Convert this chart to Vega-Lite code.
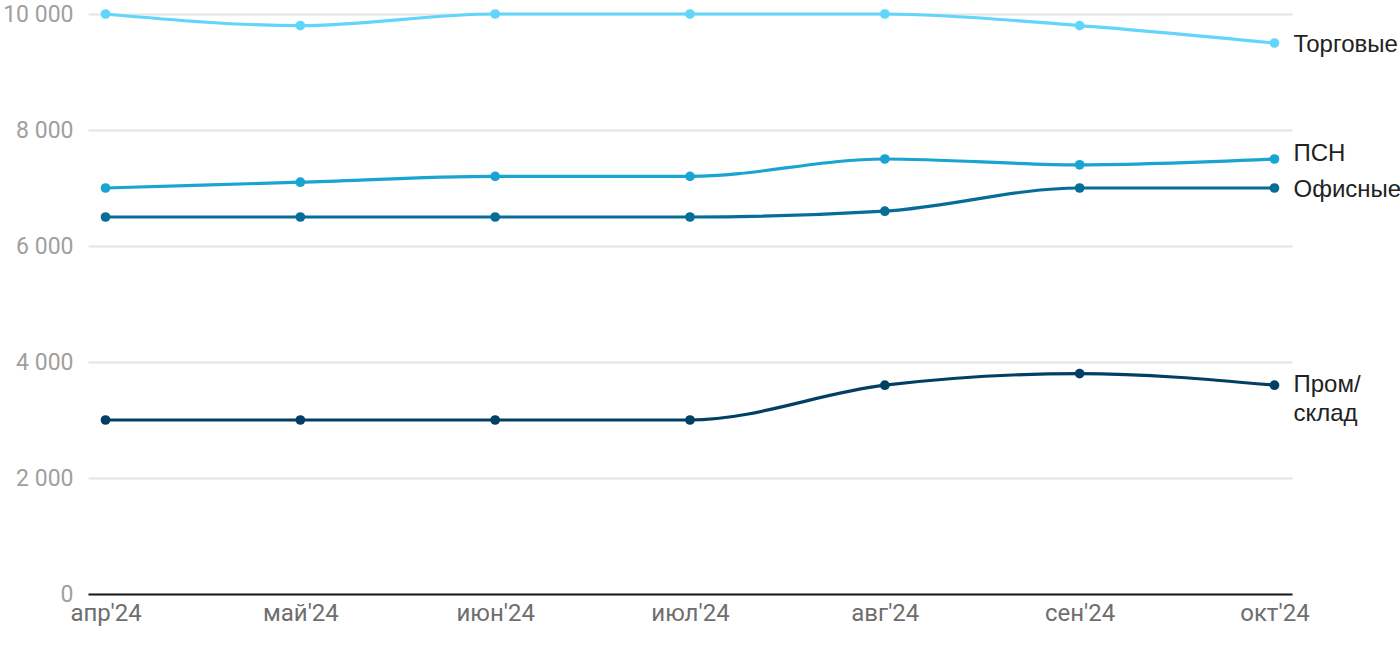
{
  "$schema": "https://vega.github.io/schema/vega-lite/v6.json",
  "width": 1204,
  "height": 580,
  "autosize": "none",
  "padding": {"left": 88, "top": 14, "right": 108, "bottom": 56},
  "background": "white",
  "config": {
    "view": {"stroke": null},
    "font": "Roboto"
  },
  "data": {
    "values": [
      {"month": "апр'24", "series": "Торговые", "label": "Торговые", "value": 10000},
      {"month": "май'24", "series": "Торговые", "label": "Торговые", "value": 9800},
      {"month": "июн'24", "series": "Торговые", "label": "Торговые", "value": 10000},
      {"month": "июл'24", "series": "Торговые", "label": "Торговые", "value": 10000},
      {"month": "авг'24", "series": "Торговые", "label": "Торговые", "value": 10000},
      {"month": "сен'24", "series": "Торговые", "label": "Торговые", "value": 9800},
      {"month": "окт'24", "series": "Торговые", "label": "Торговые", "value": 9500},
      {"month": "апр'24", "series": "ПСН", "label": "ПСН", "value": 7000},
      {"month": "май'24", "series": "ПСН", "label": "ПСН", "value": 7100},
      {"month": "июн'24", "series": "ПСН", "label": "ПСН", "value": 7200},
      {"month": "июл'24", "series": "ПСН", "label": "ПСН", "value": 7200},
      {"month": "авг'24", "series": "ПСН", "label": "ПСН", "value": 7500},
      {"month": "сен'24", "series": "ПСН", "label": "ПСН", "value": 7400},
      {"month": "окт'24", "series": "ПСН", "label": "ПСН", "value": 7500},
      {"month": "апр'24", "series": "Офисные", "label": "Офисные", "value": 6500},
      {"month": "май'24", "series": "Офисные", "label": "Офисные", "value": 6500},
      {"month": "июн'24", "series": "Офисные", "label": "Офисные", "value": 6500},
      {"month": "июл'24", "series": "Офисные", "label": "Офисные", "value": 6500},
      {"month": "авг'24", "series": "Офисные", "label": "Офисные", "value": 6600},
      {"month": "сен'24", "series": "Офисные", "label": "Офисные", "value": 7000},
      {"month": "окт'24", "series": "Офисные", "label": "Офисные", "value": 7000},
      {"month": "апр'24", "series": "Пром/склад", "label": "Пром/\nсклад", "value": 3000},
      {"month": "май'24", "series": "Пром/склад", "label": "Пром/\nсклад", "value": 3000},
      {"month": "июн'24", "series": "Пром/склад", "label": "Пром/\nсклад", "value": 3000},
      {"month": "июл'24", "series": "Пром/склад", "label": "Пром/\nсклад", "value": 3000},
      {"month": "авг'24", "series": "Пром/склад", "label": "Пром/\nсклад", "value": 3600},
      {"month": "сен'24", "series": "Пром/склад", "label": "Пром/\nсклад", "value": 3800},
      {"month": "окт'24", "series": "Пром/склад", "label": "Пром/\nсклад", "value": 3600}
    ]
  },
  "encoding": {
    "x": {
      "field": "month",
      "type": "ordinal",
      "sort": ["апр'24", "май'24", "июн'24", "июл'24", "авг'24", "сен'24", "окт'24"],
      "scale": {"type": "point", "padding": 0.09},
      "axis": {
        "title": null,
        "labelAngle": 0,
        "ticks": false,
        "grid": false,
        "domain": true,
        "domainColor": "#1a1a1a",
        "domainWidth": 2,
        "labelColor": "#6e6e6e",
        "labelFontSize": 24,
        "labelFont": "Roboto",
        "labelPadding": 7
      }
    },
    "y": {
      "field": "value",
      "type": "quantitative",
      "scale": {"domain": [0, 10000], "nice": false},
      "axis": {
        "title": null,
        "values": [0, 2000, 4000, 6000, 8000, 10000],
        "labelExpr": "replace(format(datum.value, ','), ',', ' ')",
        "domain": false,
        "ticks": false,
        "grid": true,
        "gridColor": "#e4e4e4",
        "gridWidth": 2,
        "labelColor": "#a0a0a0",
        "labelFontSize": 23,
        "labelFont": "Roboto",
        "labelPadding": 15
      }
    },
    "color": {
      "field": "series",
      "type": "nominal",
      "scale": {
        "domain": ["Торговые", "ПСН", "Офисные", "Пром/склад"],
        "range": ["#62d5fb", "#19a4d1", "#066d99", "#023f65"]
      },
      "legend": null
    }
  },
  "layer": [
    {
      "mark": {"type": "line", "interpolate": "monotone", "strokeWidth": 3.2}
    },
    {
      "mark": {"type": "point", "filled": true, "opacity": 1, "size": 95}
    },
    {
      "transform": [
        {"filter": "indexof(datum.month, 'окт') == 0"},
        {"filter": "datum.series == 'Торговые' || datum.series == 'Офисные'"}
      ],
      "mark": {"type": "text", "align": "left", "baseline": "middle", "dx": 19, "dy": 2, "fontSize": 24, "font": "Liberation Sans", "color": "#222222"},
      "encoding": {"text": {"field": "label"}, "color": {"value": "#222222"}}
    },
    {
      "transform": [
        {"filter": "indexof(datum.month, 'окт') == 0"},
        {"filter": "datum.series == 'ПСН'"}
      ],
      "mark": {"type": "text", "align": "left", "baseline": "middle", "dx": 19, "dy": -5, "fontSize": 24, "font": "Liberation Sans", "color": "#222222"},
      "encoding": {"text": {"field": "label"}, "color": {"value": "#222222"}}
    },
    {
      "transform": [
        {"filter": "indexof(datum.month, 'окт') == 0"},
        {"filter": "datum.series == 'Пром/склад'"}
      ],
      "mark": {"type": "text", "align": "left", "baseline": "top", "dx": 19, "dy": -12, "fontSize": 24, "lineHeight": 29, "lineBreak": "\n", "font": "Liberation Sans", "color": "#222222"},
      "encoding": {"text": {"field": "label"}, "color": {"value": "#222222"}}
    }
  ]
}
